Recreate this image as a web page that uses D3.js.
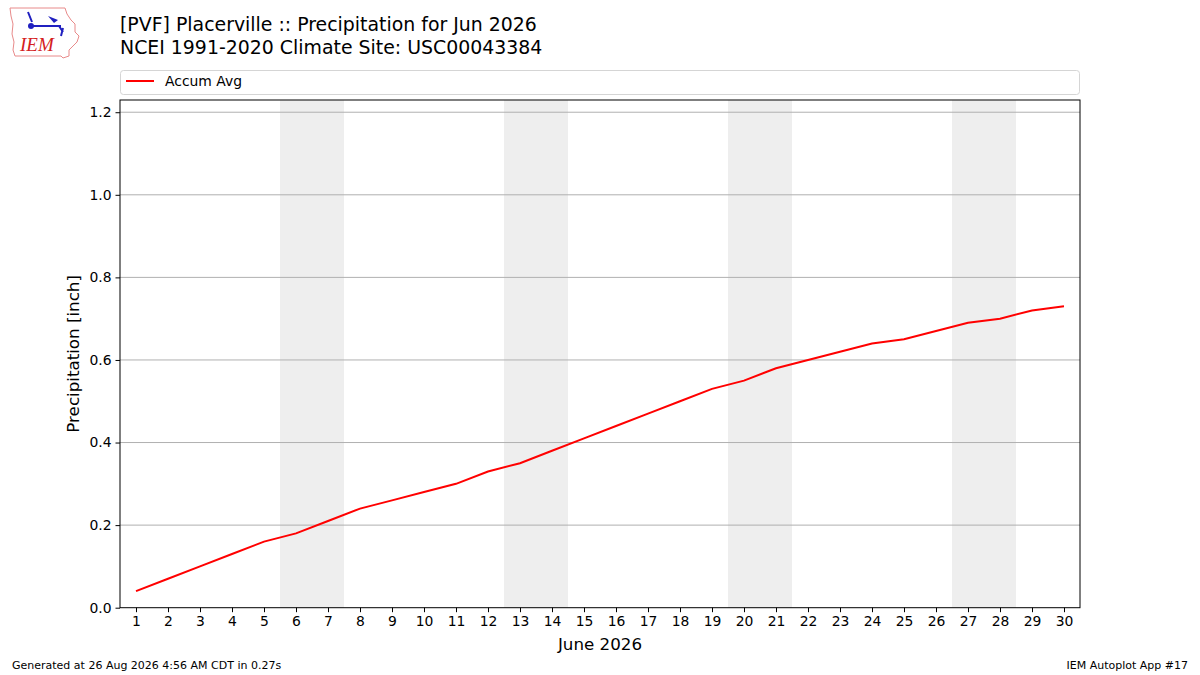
<!DOCTYPE html>
<html>
<head>
<meta charset="utf-8">
<script src="https://cdn.jsdelivr.net/npm/d3@7"></script>
<style>
  body { margin: 0; background: #fff; }
  svg { font-family: "DejaVu Sans", sans-serif; }
</style>
</head>
<body>
<svg width="1200" height="675"></svg>
<script>
// data
var days = d3.range(1, 31);
var accumAvg = [0.04, 0.07, 0.10, 0.13, 0.16, 0.18, 0.21, 0.24, 0.26, 0.28,
                0.30, 0.33, 0.35, 0.38, 0.41, 0.44, 0.47, 0.50, 0.53, 0.55,
                0.58, 0.60, 0.62, 0.64, 0.65, 0.67, 0.69, 0.70, 0.72, 0.73];
var weekends = [6, 13, 20, 27];
var yTicks = [0, 0.2, 0.4, 0.6, 0.8, 1.0, 1.2];

var svg = d3.select("svg");
var plotL = 120, plotR = 1080, plotT = 100, plotB = 607.7;

var x = d3.scaleLinear().domain([0.5, 30.5]).range([plotL, plotR]);
var y = d3.scaleLinear().domain([0, 1.2296]).range([plotB, plotT]);

// weekend shading
svg.append("g")
    .selectAll("rect")
    .data(weekends)
    .enter()
    .append("rect")
    .attr("x", d => x(d - 0.5))
    .attr("width", d => x(d + 1.5) - x(d - 0.5))
    .attr("y", plotT)
    .attr("height", plotB - plotT)
    .attr("fill", "#eeeeee");

// gridlines
svg.append("g")
    .selectAll("line")
    .data(yTicks.slice(1))
    .enter()
    .append("line")
    .attr("x1", plotL).attr("x2", plotR)
    .attr("y1", d => y(d)).attr("y2", d => y(d))
    .attr("stroke", "#b0b0b0")
    .attr("stroke-width", 1);

// line
var line = d3.line()
    .x((d, i) => x(days[i]))
    .y(d => y(d));

svg.append("path")
    .datum(accumAvg)
    .attr("d", line)
    .attr("fill", "none")
    .attr("stroke", "red")
    .attr("stroke-width", 2);

// frame
svg.append("rect")
    .attr("x", plotL).attr("y", plotT)
    .attr("width", plotR - plotL).attr("height", plotB - plotT)
    .attr("fill", "none")
    .attr("stroke", "black")
    .attr("stroke-width", 1);

// axes
var xAxis = svg.append("g")
    .attr("transform", "translate(0," + plotB + ")")
    .call(d3.axisBottom(x).tickValues(days).tickSize(4.5).tickPadding(4));
var yAxis = svg.append("g")
    .attr("transform", "translate(" + plotL + ",0)")
    .call(d3.axisLeft(y).tickValues(yTicks).tickFormat(d3.format(".1f")).tickSize(4.5).tickPadding(4));

[xAxis, yAxis].forEach(a => {
    a.select(".domain").remove();
    a.selectAll("text").attr("font-size", 13.9).attr("fill", "black")
        .attr("font-family", "DejaVu Sans");
    a.selectAll("line").attr("stroke", "black");
});

svg.append("text")
    .attr("x", (plotL + plotR) / 2).attr("y", 650)
    .attr("text-anchor", "middle")
    .attr("font-size", 16.7)
    .text("June 2026");

svg.append("text")
    .attr("transform", "translate(79," + (plotT + plotB) / 2 + ") rotate(-90)")
    .attr("text-anchor", "middle")
    .attr("font-size", 16.7)
    .text("Precipitation [inch]");

// titles
svg.append("text")
    .attr("x", 120).attr("y", 31)
    .attr("font-size", 18.9)
    .text("[PVF] Placerville :: Precipitation for Jun 2026");
svg.append("text")
    .attr("x", 120).attr("y", 54)
    .attr("font-size", 18.9)
    .text("NCEI 1991-2020 Climate Site: USC00043384");

// legend
svg.append("rect")
    .attr("x", 120.5).attr("y", 70.5)
    .attr("width", 959).attr("height", 24)
    .attr("rx", 3)
    .attr("fill", "white")
    .attr("stroke", "#d5d5d5");
svg.append("line")
    .attr("x1", 126).attr("x2", 154)
    .attr("y1", 81).attr("y2", 81)
    .attr("stroke", "red").attr("stroke-width", 2);
svg.append("text")
    .attr("x", 165).attr("y", 86)
    .attr("font-size", 13.9)
    .text("Accum Avg");

// footer
svg.append("text")
    .attr("x", 12).attr("y", 669)
    .attr("font-size", 11)
    .text("Generated at 26 Aug 2026 4:56 AM CDT in 0.27s");
svg.append("text")
    .attr("x", 1188).attr("y", 669)
    .attr("text-anchor", "end")
    .attr("font-size", 11)
    .text("IEM Autoplot App #17");

// logo (rough iowa outline + IEM)
var logo = svg.append("g").attr("transform", "translate(9,8)");
logo.append("path")
    .attr("d", "M1,0 L56,0 L58,6 L62,12 L66,16 L66,24 L70,28 L68,34 L64,38 L60,42 L60,48 L54,50 L52,48 L6,48 L4,42 L5,34 L3,26 L4,16 L2,8 Z")
    .attr("fill", "white")
    .attr("stroke", "#e88a8a")
    .attr("stroke-width", 1);
logo.append("path")
    .attr("d", "M22,18 L52,18 M19,4 L23,14 M50,18 L54,24 M54,20 L52,28")
    .attr("stroke", "#2020c0").attr("stroke-width", 2).attr("fill", "none");
logo.append("circle").attr("cx", 22).attr("cy", 18).attr("r", 3).attr("fill", "#2020c0");
logo.append("path").attr("d", "M39,8 L49,12 L45,15 Z").attr("fill", "#2020c0");
logo.append("text")
    .attr("x", 11).attr("y", 43)
    .attr("font-family", "Liberation Serif")
    .attr("font-style", "italic")
    .attr("font-size", 19)
    .attr("fill", "#d42020")
    .text("IEM");
</script>
</body>
</html>
